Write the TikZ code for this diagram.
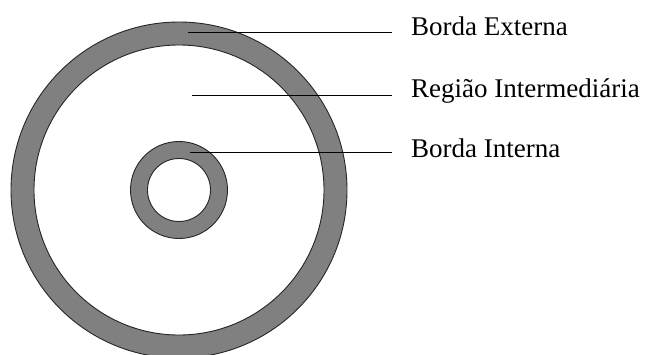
\documentclass[tikz,border=0pt]{standalone}
\usepackage{fontspec}
\setmainfont{Liberation Serif}
\usetikzlibrary{positioning}
\usetikzlibrary{calc}
\definecolor{ringgray}{RGB}{128,128,128}

\begin{document}
\begin{tikzpicture}[
    x=1pt, y=-1pt,
    ring/.style={draw=black!85, line width=0.9pt, fill=ringgray, even odd rule},
    label/.style={anchor=base west, inner xsep=19pt, inner ysep=0pt, font=\fontsize{27pt}{32pt}\selectfont},
    leader/.style={draw=black, line width=0.9pt}
]
    \useasboundingbox (0,0) rectangle (645,354);
    \coordinate (c) at (179,190);

    % outer and inner rings
    \path[ring] (c) circle (168pt) (c) circle (145pt);
    \path[ring] (c) circle (48.5pt) (c) circle (31.5pt);

    \node[label] (ext) at (392,35) {Borda Externa};
    \node[label] (mid) at (392,97) {Região Intermediária};
    \node[label] (int) at (392,157) {Borda Interna};

    \coordinate (pe) at (188,32);
    \coordinate (pm) at (192,95);
    \coordinate (pi) at (190,152);

    \draw[leader] (pe) -- (pe -| ext.west);
    \draw[leader] (pm) -- (pm -| mid.west);
    \draw[leader] (pi) -- (pi -| int.west);
\end{tikzpicture}
\end{document}
